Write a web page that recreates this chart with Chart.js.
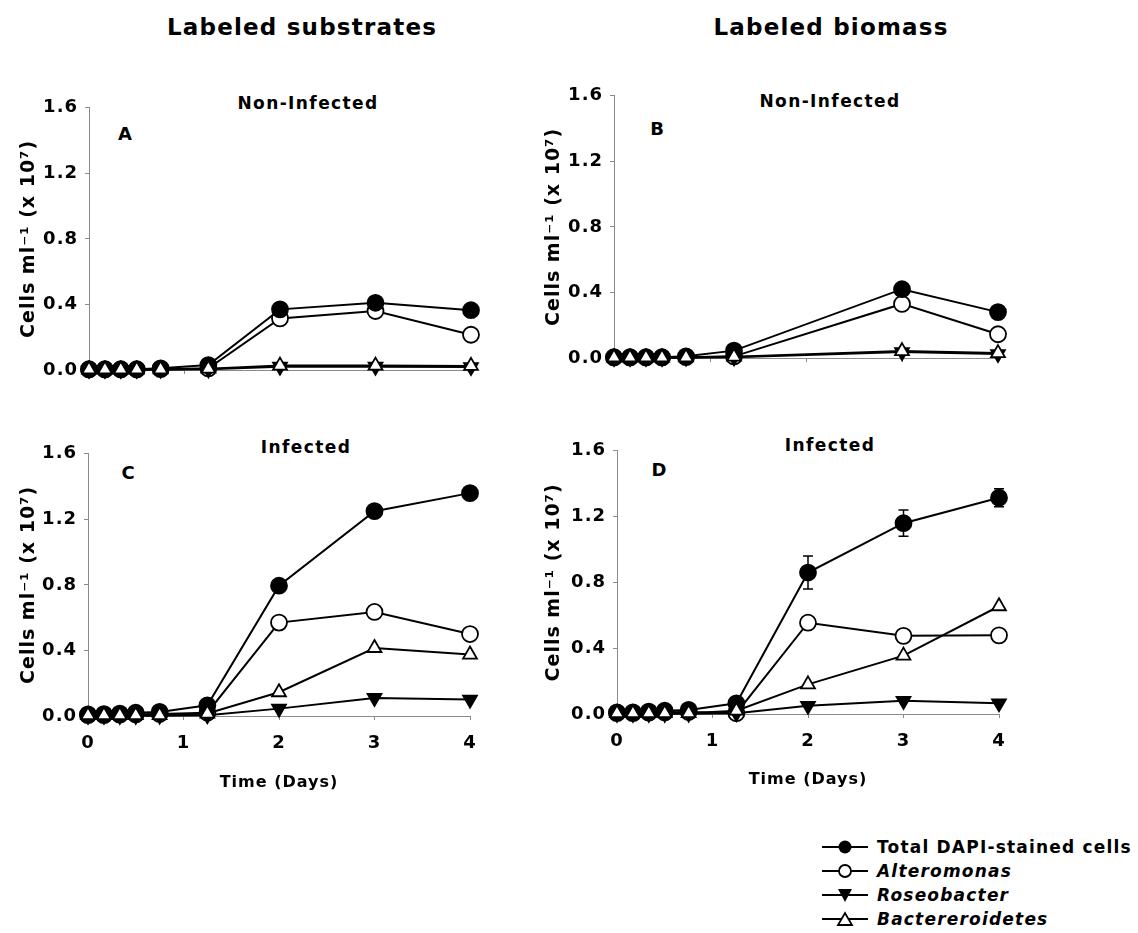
<!DOCTYPE html>
<html>
<head>
<meta charset="utf-8">
<script src="https://cdn.jsdelivr.net/npm/chart.js@4"></script>
<style>
  body { margin: 0; background: #fff; width: 1138px; height: 933px; position: relative; overflow: hidden;
         font-family: "DejaVu Sans", Verdana, sans-serif; font-weight: bold; color: #000; }
  canvas { position: absolute; }
  .lbl { position: absolute; transform: translate(-50%, -50%); white-space: nowrap; }
  .col { font-size: 23px; letter-spacing: 1.2px; }
  .ttl { font-size: 17px; letter-spacing: 1.4px; }
  .let { font-size: 18px; }
  .legend { position: absolute; left: 822px; top: 835px; }
  .legend div { height: 24px; display: flex; align-items: center; font-size: 17px; letter-spacing: 1.2px; white-space: nowrap; }
  .legend svg { margin-right: 9px; }
</style>
</head>
<body>
<div class="lbl col" style="left:302px;top:27px">Labeled substrates</div>
<div class="lbl col" style="left:831px;top:27px">Labeled biomass</div>

<div class="lbl ttl" style="left:308px;top:103px">Non-Infected</div>
<div class="lbl ttl" style="left:830px;top:101px">Non-Infected</div>
<div class="lbl ttl" style="left:306px;top:447px">Infected</div>
<div class="lbl ttl" style="left:830px;top:445px">Infected</div>

<div class="lbl let" style="left:125px;top:133px">A</div>
<div class="lbl let" style="left:657px;top:128px">B</div>
<div class="lbl let" style="left:128px;top:472px">C</div>
<div class="lbl let" style="left:659px;top:469px">D</div>

<canvas id="panelA"></canvas>
<canvas id="panelB"></canvas>
<canvas id="panelC"></canvas>
<canvas id="panelD"></canvas>

<div class="legend">
  <div><svg width="46" height="16"><line x1="0" y1="8" x2="46" y2="8" stroke="#000" stroke-width="2"/><circle cx="23" cy="8" r="6.5" fill="#000"/></svg>Total DAPI-stained cells</div>
  <div><svg width="46" height="16"><line x1="0" y1="8" x2="46" y2="8" stroke="#000" stroke-width="2"/><circle cx="23" cy="8" r="6" fill="#fff" stroke="#000" stroke-width="1.8"/></svg><i>Alteromonas</i></div>
  <div><svg width="46" height="16"><line x1="0" y1="8" x2="46" y2="8" stroke="#000" stroke-width="2"/><polygon points="16,2 30,2 23,15" fill="#000"/></svg><i>Roseobacter</i></div>
  <div><svg width="46" height="16"><line x1="0" y1="8" x2="46" y2="8" stroke="#000" stroke-width="2"/><polygon points="16,14 30,14 23,2" fill="#fff" stroke="#000" stroke-width="1.8"/></svg><i>Bactereroidetes</i></div>
</div>

<script>
// sampling times (days); panel B has no day-2 sample
const days = [0, 0.167, 0.333, 0.5, 0.75, 1.25, 2, 3, 4];
const daysB = [0, 0.167, 0.333, 0.5, 0.75, 1.25, 3, 4];

const seriesNames = ['Total DAPI-stained cells', 'Alteromonas', 'Roseobacter', 'Bactereroidetes'];

// A - labeled substrates, non-infected (cells ml-1 x 10^7)
const aTotal = [0.005, 0.005, 0.005, 0.005, 0.01, 0.03, 0.37, 0.41, 0.365];
const aAlter = [0.003, 0.003, 0.003, 0.003, 0.005, 0.01, 0.315, 0.36, 0.215];
const aRoseo = [0.001, 0.001, 0.001, 0.001, 0.002, 0.004, 0.02, 0.02, 0.018];
const aBacte = [0.003, 0.003, 0.003, 0.003, 0.004, 0.008, 0.027, 0.027, 0.025];

// B - labeled biomass, non-infected
const bTotal = [0.005, 0.005, 0.005, 0.005, 0.01, 0.045, 0.42, 0.28];
const bAlter = [0.003, 0.003, 0.003, 0.003, 0.005, 0.01, 0.33, 0.145];
const bRoseo = [0.001, 0.001, 0.001, 0.001, 0.002, 0.004, 0.036, 0.024];
const bBacte = [0.003, 0.003, 0.003, 0.003, 0.004, 0.008, 0.042, 0.03];

// C - labeled substrates, infected
const cTotal = [0.01, 0.012, 0.015, 0.02, 0.025, 0.065, 0.795, 1.25, 1.36];
const cAlter = [0.005, 0.005, 0.008, 0.01, 0.012, 0.02, 0.57, 0.635, 0.5];
const cRoseo = [0.001, 0.001, 0.001, 0.001, 0.002, 0.005, 0.045, 0.11, 0.1];
const cBacte = [0.005, 0.005, 0.005, 0.005, 0.005, 0.015, 0.145, 0.415, 0.375];

// D - labeled biomass, infected (total has error bars)
const dTotal = [0.01, 0.01, 0.015, 0.02, 0.025, 0.065, 0.86, 1.16, 1.315];
const dTotalErr = [0, 0, 0, 0, 0, 0, 0.1, 0.08, 0.055];
const dAlter = [0.005, 0.005, 0.008, 0.01, 0.012, 0.005, 0.555, 0.475, 0.478];
const dRoseo = [0.001, 0.001, 0.001, 0.001, 0.002, 0.005, 0.05, 0.08, 0.065];
const dBacte = [0.005, 0.005, 0.005, 0.005, 0.005, 0.02, 0.18, 0.355, 0.655];

const yTicks = [0, 0.4, 0.8, 1.2, 1.6];
const xTicks = [0, 1, 2, 3, 4];

const FONT = '"DejaVu Sans", Verdana, sans-serif';
const AXIS_GREY = '#8a8a8a';

// marker look per series: total, alteromonas, roseobacter, bacteroidetes
const markers = [
  { pointStyle: 'circle', fill: '#000', radius: 8, rot: 0, order: 2 },
  { pointStyle: 'circle', fill: '#fff', radius: 8, rot: 0, order: 3 },
  { pointStyle: 'triangle', fill: '#000', radius: 8, rot: 180, order: 1 },
  { pointStyle: 'triangle', fill: '#fff', radius: 8, rot: 0, order: 0 }
];

// wider lettering, closer to the original Verdana
const spacing = {
  id: 'spacing',
  beforeLayout(chart) { chart.ctx.letterSpacing = '1px'; },
  beforeDraw(chart) { chart.ctx.letterSpacing = '1px'; }
};

const errorBars = {
  id: 'errorBars',
  afterDatasetsDraw(chart) {
    const ctx = chart.ctx;
    const xs = chart.scales.x, ys = chart.scales.y;
    chart.data.datasets.forEach(ds => {
      if (!ds.errors) return;
      ctx.save();
      ctx.strokeStyle = '#000';
      ctx.lineWidth = 1.5;
      ds.data.forEach((p, i) => {
        const e = ds.errors[i];
        if (!e) return;
        const px = xs.getPixelForValue(p.x);
        const top = ys.getPixelForValue(p.y + e);
        const bot = ys.getPixelForValue(p.y - e);
        ctx.beginPath();
        ctx.moveTo(px, top); ctx.lineTo(px, bot);
        ctx.moveTo(px - 5, top); ctx.lineTo(px + 5, top);
        ctx.moveTo(px - 5, bot); ctx.lineTo(px + 5, bot);
        ctx.stroke();
      });
      ctx.restore();
    });
  }
};

function makePanel(id, box, area, xs, series, errs, showX) {
  const cv = document.getElementById(id);
  cv.style.left = box.left + 'px';
  cv.style.top = box.top + 'px';
  cv.width = box.width;
  cv.height = box.height;

  const datasets = series.map((vals, k) => {
    const m = markers[k];
    const ds = {
      label: seriesNames[k],
      data: vals.map((v, i) => ({ x: xs[i], y: v })),
      showLine: true,
      borderColor: '#000',
      borderWidth: 2,
      pointStyle: m.pointStyle,
      pointRadius: m.radius,
      pointRotation: m.rot,
      pointBackgroundColor: m.fill,
      pointBorderColor: '#000',
      pointBorderWidth: 1.8,
      order: m.order,
      clip: false
    };
    if (k === 0 && errs) ds.errors = errs;
    return ds;
  });

  new Chart(cv, {
    type: 'scatter',
    data: { datasets },
    plugins: [spacing, errorBars],
    options: {
      responsive: false,
      animation: false,
      events: [],
      layout: {
        padding: { top: area.top - box.top, right: box.left + box.width - area.right, left: 0, bottom: 0 }
      },
      plugins: { legend: { display: false }, tooltip: { enabled: false } },
      scales: {
        x: {
          type: 'linear', min: 0, max: 4,
          afterFit: s => { s.height = box.top + box.height - area.bottom; },
          afterBuildTicks: s => { s.ticks = xTicks.map(v => ({ value: v })); },
          border: { display: true, color: AXIS_GREY, width: 1 },
          grid: { drawOnChartArea: false, color: AXIS_GREY, tickLength: 4 },
          ticks: { display: showX, color: '#000', padding: 13, font: { family: FONT, size: 18, weight: 'bold' } },
          title: { display: showX, text: 'Time (Days)', color: '#000', padding: { bottom: 4 },
                   font: { family: FONT, size: 16, weight: 'bold' } }
        },
        y: {
          type: 'linear', min: 0, max: 1.6,
          afterFit: s => { s.width = area.left - box.left; },
          afterBuildTicks: s => { s.ticks = yTicks.map(v => ({ value: v })); },
          border: { display: true, color: AXIS_GREY, width: 1 },
          grid: { drawOnChartArea: false, color: AXIS_GREY, tickLength: 4 },
          ticks: { color: '#000', padding: 7, callback: v => v.toFixed(1),
                   font: { family: FONT, size: 18, weight: 'bold' } },
          title: { display: true, text: 'Cells ml\u207B\u00B9 (x 10\u2077)', color: '#000', padding: { top: 18 },
                   font: { family: FONT, size: 19, weight: 'bold' } }
        }
      }
    }
  });
}

makePanel('panelA', { left: 0, top: 90, width: 500, height: 300 },
  { left: 89, top: 103, right: 471, bottom: 370 }, days, [aTotal, aAlter, aRoseo, aBacte], null, false);
makePanel('panelB', { left: 525, top: 78, width: 500, height: 300 },
  { left: 614, top: 91, right: 998, bottom: 358 }, daysB, [bTotal, bAlter, bRoseo, bBacte], null, false);
makePanel('panelC', { left: 0, top: 436, width: 500, height: 360 },
  { left: 88, top: 449, right: 470, bottom: 716 }, days, [cTotal, cAlter, cRoseo, cBacte], null, true);
makePanel('panelD', { left: 525, top: 433, width: 500, height: 360 },
  { left: 617, top: 446, right: 999, bottom: 714 }, days, [dTotal, dAlter, dRoseo, dBacte], dTotalErr, true);
</script>
</body>
</html>
